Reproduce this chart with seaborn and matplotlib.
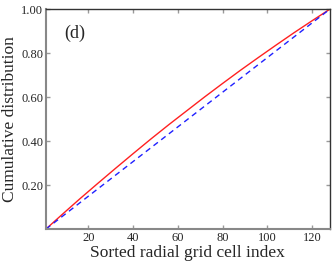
import matplotlib
matplotlib.use("Agg")
import matplotlib.pyplot as plt
import seaborn as sns
import pandas as pd

# Sorted radial grid cell index and cumulative distributions
cell_index = [1, 8, 16, 24, 32, 40, 48, 56, 64, 72, 80, 88, 96, 104, 112, 120, 128]
cum_red = [0.0, 0.064, 0.136, 0.206, 0.275, 0.343, 0.410, 0.475, 0.538, 0.601,
           0.662, 0.722, 0.780, 0.837, 0.893, 0.947, 1.0]
uniform_index = [1, 128]
cum_blue = [0.0, 1.0]

x_ticks = [20, 40, 60, 80, 100, 120]
y_ticks = [0.2, 0.4, 0.6, 0.8, 1.0]

sns.set_style("ticks")
plt.rcParams['font.family'] = ['Liberation Serif', 'DejaVu Serif']

fig = plt.figure(figsize=(3.35, 2.67), dpi=100)
ax = fig.add_axes([0.137, 0.142, 0.848, 0.824])

red_df = pd.DataFrame({'idx': cell_index, 'cum': cum_red})
blue_df = pd.DataFrame({'idx': uniform_index, 'cum': cum_blue})
sns.lineplot(data=red_df, x='idx', y='cum', color='#ff2020', lw=1.0, ax=ax)
sns.lineplot(data=blue_df, x='idx', y='cum', color='#2020ff', lw=1.0,
             linestyle=(0, (4, 3)), ax=ax)

ax.set_xlim(1, 128)
ax.set_ylim(0, 1)
ax.set_xticks(x_ticks)
ax.set_yticks(y_ticks)
ax.set_yticklabels([f"{v:.2f}" for v in y_ticks])
ax.tick_params(direction='in', length=3, width=1, color='#999999',
               labelsize=9, top=True, right=True, pad=2)
for side in ['left', 'bottom']:
    ax.spines[side].set_color('#888888')
    ax.spines[side].set_linewidth(1.5)
for side in ['top', 'right']:
    ax.spines[side].set_color('#333333')
    ax.spines[side].set_linewidth(1.0)

ax.set_xlabel('Sorted radial grid cell index', fontsize=12.5, labelpad=1)
ax.set_ylabel('Cumulative distribution', fontsize=12.5, labelpad=2)
ax.text(0.065, 0.87, '(d)', transform=ax.transAxes, fontsize=13)

fig.savefig('out.png', dpi=100)
